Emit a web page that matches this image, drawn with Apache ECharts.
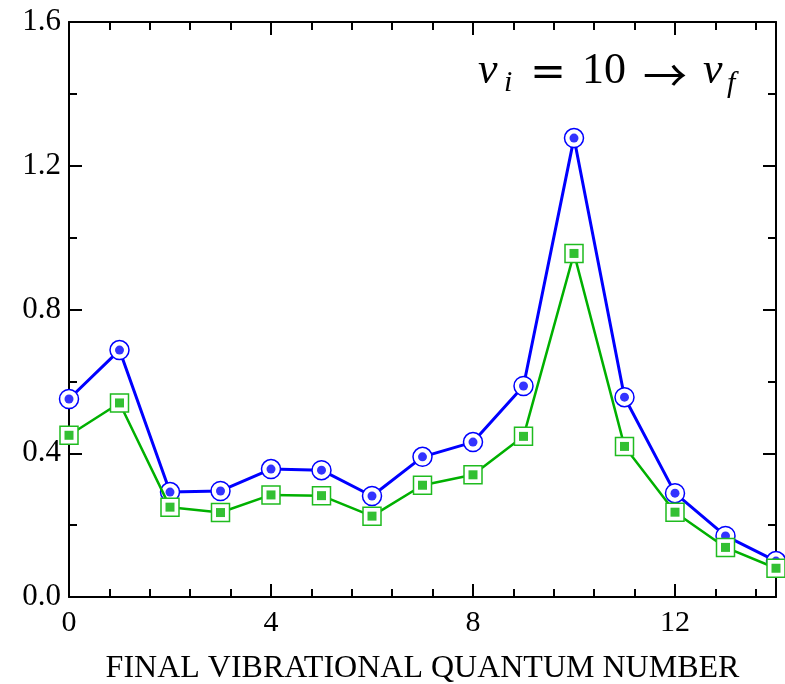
<!DOCTYPE html>
<html>
<head>
<meta charset="utf-8">
<script src="https://cdn.jsdelivr.net/npm/echarts@6/dist/echarts.min.js"></script>
<style>
  html, body { margin: 0; padding: 0; background: #fff; }
  #chart { width: 785px; height: 684px; }
</style>
</head>
<body>
<div id="chart"></div>
<script>
// Final vibrational quantum number v_f
const finalLevels = [0, 1, 2, 3, 4, 5, 6, 7, 8, 9, 10, 11, 12, 13, 14];
// Upper curve (blue circles)
const blueValues = [0.551, 0.687, 0.292, 0.295, 0.356, 0.353, 0.281, 0.390, 0.431, 0.587, 1.277, 0.556, 0.289, 0.170, 0.100];
// Lower curve (green squares)
const greenValues = [0.450, 0.540, 0.250, 0.235, 0.284, 0.282, 0.225, 0.311, 0.340, 0.447, 0.956, 0.419, 0.236, 0.138, 0.080];
const xTickLabels = ['0', '4', '8', '12'];
const yTickLabels = ['0.0', '0.4', '0.8', '1.2', '1.6'];
const xAxisTitle = 'FINAL VIBRATIONAL QUANTUM NUMBER';

const SERIF = 'Liberation Serif';
const EQ_FONT = 'DejaVu Serif';
const ARROW_FONT = 'Noto Sans CJK JP';
const BLUE = '#0000ff';
const GREEN = '#00b000';

const pairs = vals => finalLevels.map((x, i) => [x, vals[i]]);

function frameAxis(base) {
  return Object.assign({
    axisLine: { show: true, onZero: false, lineStyle: { color: '#000', width: 2 } },
    axisTick: { show: true, inside: true, length: 13, lineStyle: { color: '#000', width: 2 } },
    splitLine: { show: false },
    minorSplitLine: { show: false }
  }, base);
}

const xBase = { type: 'value', min: 0, max: 14, interval: 4 };
const yBase = { type: 'value', min: 0, max: 1.6, interval: 0.4 };
const xMinor = { show: true, splitNumber: 5, length: 8, lineStyle: { color: '#000', width: 2 } };
const yMinor = { show: true, splitNumber: 2, length: 8, lineStyle: { color: '#000', width: 2 } };

// one piece of the "v_i = 10 → v_f" annotation; (x, top) is the text box corner
function mathText(x, top, text, size, italic, family) {
  return {
    text: text, left: x, top: top, padding: 0,
    textStyle: {
      color: '#000', fontFamily: family || SERIF, fontSize: size,
      fontStyle: italic ? 'italic' : 'normal', fontWeight: 'normal'
    }
  };
}

const chart = echarts.init(document.getElementById('chart'), null, { renderer: 'canvas' });

chart.setOption({
  animation: false,
  backgroundColor: '#fff',
  title: [
    mathText(478, 49, 'v', 44, true),
    mathText(504, 68, 'i', 30, true),
    mathText(530, 53, '=', 43, false, EQ_FONT),
    mathText(582, 49, '10', 44, false),
    mathText(643, 53, '\u2192', 44, false, ARROW_FONT),
    mathText(703, 49, 'v', 44, true),
    mathText(727, 69, 'f', 30, true)
  ],
  grid: { left: 69, right: 9, top: 22, bottom: 87, containLabel: false, outerBoundsMode: 'none' },
  xAxis: [
    frameAxis(Object.assign({}, xBase, {
      position: 'bottom',
      minorTick: xMinor,
      axisLabel: {
        margin: 11, color: '#000', fontFamily: SERIF, fontSize: 30,
        formatter: v => { const i = Math.round(v / 4); return (v % 4 === 0 && xTickLabels[i]) ? xTickLabels[i] : ''; }
      },
      name: xAxisTitle,
      nameLocation: 'middle',
      nameGap: 56,
      nameTextStyle: { color: '#000', fontFamily: SERIF, fontSize: 32 }
    })),
    frameAxis(Object.assign({}, xBase, {
      position: 'top',
      minorTick: xMinor,
      axisLabel: { show: false }
    }))
  ],
  yAxis: [
    frameAxis(Object.assign({}, yBase, {
      position: 'left',
      minorTick: yMinor,
      axisLabel: {
        margin: 8, color: '#000', fontFamily: SERIF, fontSize: 31,
        formatter: v => yTickLabels[Math.round(v / 0.4)] || ''
      }
    })),
    frameAxis(Object.assign({}, yBase, {
      position: 'right',
      minorTick: yMinor,
      axisLabel: { show: false }
    }))
  ],
  series: [
    {
      type: 'line', data: pairs(blueValues), clip: false, z: 2,
      symbol: 'circle', symbolSize: 19,
      lineStyle: { color: BLUE, width: 3 },
      itemStyle: { color: '#fff', borderColor: BLUE, borderWidth: 1.5 },
      emphasis: { disabled: true }
    },
    {
      type: 'scatter', data: pairs(blueValues), clip: false, z: 3,
      symbol: 'circle', symbolSize: 9,
      itemStyle: { color: BLUE },
      emphasis: { disabled: true }
    },
    {
      type: 'line', data: pairs(greenValues), clip: false, z: 4,
      symbol: 'rect', symbolSize: 18,
      lineStyle: { color: GREEN, width: 2.5 },
      itemStyle: { color: '#fff', borderColor: '#1fbb1f', borderWidth: 1.5 },
      emphasis: { disabled: true }
    },
    {
      type: 'scatter', data: pairs(greenValues), clip: false, z: 5,
      symbol: 'rect', symbolSize: 9,
      itemStyle: { color: GREEN },
      emphasis: { disabled: true }
    }
  ]
});
</script>
</body>
</html>
